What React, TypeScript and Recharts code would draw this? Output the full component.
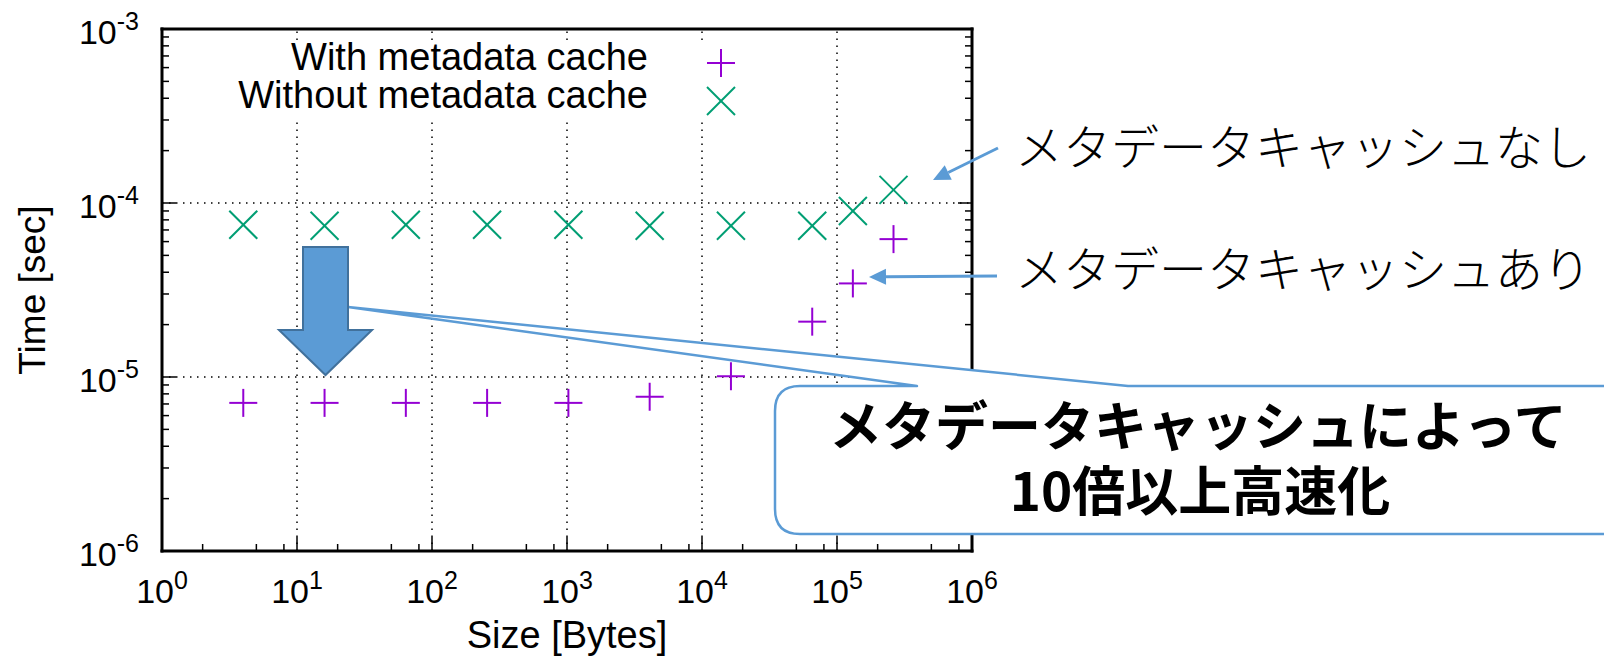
import { ScatterChart, Scatter, XAxis, YAxis, ReferenceLine, Legend } from "recharts";

// message sizes in bytes and measured times in seconds
const sizes = [4, 16, 64, 256, 1024, 4096, 16384, 65536, 131072, 262144];
const withCache = [7.1e-6, 7.1e-6, 7.1e-6, 7.1e-6, 7.1e-6, 7.7e-6, 1.01e-5, 2.08e-5, 3.45e-5, 6.2e-5];
const withoutCache = [7.5e-5, 7.4e-5, 7.5e-5, 7.5e-5, 7.5e-5, 7.4e-5, 7.4e-5, 7.4e-5, 9.0e-5, 1.19e-4];

const xDecades = [1, 10, 100, 1e3, 1e4, 1e5, 1e6];
const xMinor = [2, 5, 8];
const yDecades = [1e-6, 1e-5, 1e-4, 1e-3];
const yMinor = [2, 3, 4, 5, 6, 7, 8, 9];
const xGrid = [10, 100, 1e3, 1e4, 1e5];
const yGrid = [1e-5, 1e-4];

const SERIES = [
  { name: "With metadata cache", color: "#9400d3", marker: "plus", values: withCache },
  { name: "Without metadata cache", color: "#009e73", marker: "cross", values: withoutCache },
];

const SANS = '"Liberation Sans", Arial, Helvetica, sans-serif';
const JP = '"Noto Sans CJK JP", sans-serif';
const BLUE = "#5b9bd5";

const withMinors = (decades: number[], minors: number[]) => {
  const out: number[] = [];
  decades.forEach((d, i) => {
    out.push(d);
    if (i < decades.length - 1) minors.forEach((m) => out.push(m * d));
  });
  return out;
};
const xTicks = withMinors(xDecades, xMinor);
const yTicks = withMinors(yDecades, yMinor);

const expOf = (v: number) => Math.round(Math.log10(v));
const isMajor = (v: number) => Math.abs(Math.log10(v) - expOf(v)) < 1e-6;

function Marker({ cx, cy, color, kind }: any) {
  const r = 14;
  if (kind === "plus") {
    return (
      <g stroke={color} strokeWidth={2}>
        <line x1={cx - r} y1={cy} x2={cx + r} y2={cy} />
        <line x1={cx} y1={cy - r} x2={cx} y2={cy + r} />
      </g>
    );
  }
  return (
    <g stroke={color} strokeWidth={2}>
      <line x1={cx - r} y1={cy - r} x2={cx + r} y2={cy + r} />
      <line x1={cx - r} y1={cy + r} x2={cx + r} y2={cy - r} />
    </g>
  );
}

const BottomTick = ({ x, y, payload }: any) => {
  const major = isMajor(payload.value);
  return (
    <g>
      <line x1={x} y1={y} x2={x} y2={y - (major ? 14 : 7)} stroke="#000" strokeWidth={1.5} />
      {major && (
        <text x={x} y={y + 52} textAnchor="middle" fontFamily={SANS} fontSize={34} fill="#000">
          10<tspan dy={-14} fontSize={25}>{expOf(payload.value)}</tspan>
        </text>
      )}
    </g>
  );
};

const TopTick = ({ x, y, payload }: any) => {
  const major = isMajor(payload.value);
  return <line x1={x} y1={y} x2={x} y2={y + (major ? 14 : 7)} stroke="#000" strokeWidth={1.5} />;
};

const LeftTick = ({ x, y, payload }: any) => {
  const major = isMajor(payload.value);
  return (
    <g>
      <line x1={x} y1={y} x2={x + (major ? 14 : 7)} y2={y} stroke="#000" strokeWidth={1.5} />
      {major && (
        <text x={x - 23} y={y + 15} textAnchor="end" fontFamily={SANS} fontSize={34} fill="#000">
          10<tspan dy={-14} fontSize={25}>{expOf(payload.value)}</tspan>
        </text>
      )}
    </g>
  );
};

const RightTick = ({ x, y, payload }: any) => {
  const major = isMajor(payload.value);
  return <line x1={x} y1={y} x2={x - (major ? 14 : 7)} y2={y} stroke="#000" strokeWidth={1.5} />;
};

function KeyBox({ payload }: any) {
  return (
    <svg width={540} height={76} style={{ display: "block", background: "#fff", overflow: "visible" }}>
      {(payload || []).map((entry: any, i: number) => {
        const s = SERIES.find((d) => d.name === entry.value) || SERIES[i];
        return (
          <g key={entry.value}>
            <text x={428} y={26 + i * 38} textAnchor="end" fontFamily={SANS} fontSize={38} fill="#000">
              {entry.value}
            </text>
            <Marker cx={501} cy={19 + i * 38} color={s.color} kind={s.marker} />
          </g>
        );
      })}
    </svg>
  );
}

function head(tx: number, ty: number, fx: number, fy: number, len: number, half: number) {
  const d = Math.hypot(fx - tx, fy - ty);
  const ux = (fx - tx) / d;
  const uy = (fy - ty) / d;
  const bx = tx + ux * len;
  const by = ty + uy * len;
  return {
    pts: `${tx},${ty} ${bx - uy * half},${by + ux * half} ${bx + uy * half},${by - ux * half}`,
    bx,
    by,
  };
}

function Annotations() {
  const a1 = head(933, 180, 998, 148, 17, 8);
  const a2 = head(869, 277, 997, 276, 17, 8);
  return (
    <svg
      width={1604}
      height={658}
      style={{ position: "absolute", left: 0, top: 0, zIndex: 5, pointerEvents: "none" }}
    >
      <path
        d="M800,386 L917,386 L348,307 L1128,386 L1640,386 L1640,534 L800,534 Q775,534 775,509 L775,411 Q775,386 800,386 Z"
        fill="#fff"
        stroke={BLUE}
        strokeWidth={2.5}
        strokeLinejoin="round"
      />
      <path
        d="M303,247 L348,247 L348,330 L372,330 L325.5,375 L279,330 L303,330 Z"
        fill={BLUE}
        stroke="#41719c"
        strokeWidth={2}
      />
      <line x1={998} y1={148} x2={a1.bx} y2={a1.by} stroke={BLUE} strokeWidth={3} />
      <polygon points={a1.pts} fill={BLUE} />
      <line x1={997} y1={276} x2={a2.bx} y2={a2.by} stroke={BLUE} strokeWidth={3} />
      <polygon points={a2.pts} fill={BLUE} />
      <text x={1015} y={144} dominantBaseline="central" fontFamily={JP} fontWeight={300} fontSize={48} fill="#000">
        メタデータキャッシュなし
      </text>
      <text x={1015} y={266} dominantBaseline="central" fontFamily={JP} fontWeight={300} fontSize={48} fill="#000">
        メタデータキャッシュあり
      </text>
      <text textAnchor="middle" dominantBaseline="central" fontFamily={JP} fontWeight={700} fontSize={53} fill="#000">
        <tspan x={1198} y={423}>メタデータキャッシュによって</tspan>
        <tspan x={1200} y={488}>10倍以上高速化</tspan>
      </text>
    </svg>
  );
}

export default function App() {
  const axisLine = { stroke: "#000", strokeWidth: 3, strokeLinecap: "square" as const };
  return (
    <div style={{ position: "absolute", left: 0, top: 0, width: 1604, height: 658, background: "#fff", overflow: "hidden" }}>
      <ScatterChart width={1604} height={658} margin={{ top: 28, right: 631, bottom: 17, left: 62 }}>
        <XAxis
          dataKey="size"
          type="number"
          scale="log"
          domain={[1, 1e6]}
          allowDataOverflow
          ticks={xTicks}
          interval={0}
          height={90}
          tickSize={0}
          tickMargin={0}
          tickLine={false}
          axisLine={axisLine}
          tick={BottomTick}
          label={{
            content: ({ viewBox }: any) => (
              <text x={viewBox.x + viewBox.width / 2} y={viewBox.y + 97} textAnchor="middle" fontFamily={SANS} fontSize={38} fill="#000">
                Size [Bytes]
              </text>
            ),
          }}
        />
        <XAxis
          xAxisId="top"
          orientation="top"
          type="number"
          scale="log"
          domain={[1, 1e6]}
          allowDataOverflow
          ticks={xTicks}
          interval={0}
          height={1}
          tickSize={0}
          tickMargin={0}
          tickLine={false}
          axisLine={axisLine}
          tick={TopTick}
        />
        <YAxis
          dataKey="time"
          type="number"
          scale="log"
          domain={[1e-6, 1e-3]}
          allowDataOverflow
          ticks={yTicks}
          interval={0}
          width={100}
          tickSize={0}
          tickMargin={0}
          tickLine={false}
          axisLine={axisLine}
          tick={LeftTick}
          label={{
            content: ({ viewBox }: any) => {
              const cy = viewBox.y + viewBox.height / 2;
              return (
                <text x={45} y={cy} transform={`rotate(-90 45 ${cy})`} textAnchor="middle" fontFamily={SANS} fontSize={37} fill="#000">
                  Time [sec]
                </text>
              );
            },
          }}
        />
        <YAxis
          yAxisId="right"
          orientation="right"
          type="number"
          scale="log"
          domain={[1e-6, 1e-3]}
          allowDataOverflow
          ticks={yTicks}
          interval={0}
          width={1}
          tickSize={0}
          tickMargin={0}
          tickLine={false}
          axisLine={axisLine}
          tick={RightTick}
        />
        {xGrid.map((v) => (
          <ReferenceLine key={`gx${v}`} x={v} stroke="#000" strokeWidth={1.5} strokeDasharray="1.5 5.5" />
        ))}
        {yGrid.map((v) => (
          <ReferenceLine key={`gy${v}`} y={v} stroke="#000" strokeWidth={1.5} strokeDasharray="1.5 5.5" />
        ))}
        {SERIES.map((s) => (
          <Scatter
            key={s.name}
            name={s.name}
            data={sizes.map((size, i) => ({ size, time: s.values[i] }))}
            fill={s.color}
            isAnimationActive={false}
            shape={(p: any) => <Marker cx={p.cx} cy={p.cy} color={s.color} kind={s.marker} />}
          />
        ))}
        <Legend
          layout="vertical"
          align="center"
          verticalAlign="middle"
          wrapperStyle={{ left: 220, top: 44, width: 540, height: 76 }}
          content={(props: any) => <KeyBox payload={props.payload} />}
        />
      </ScatterChart>
      <Annotations />
    </div>
  );
}
